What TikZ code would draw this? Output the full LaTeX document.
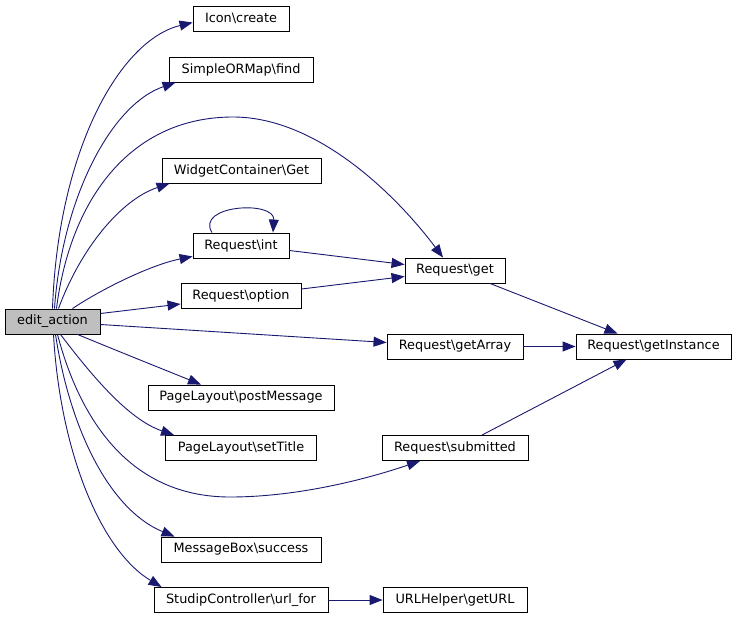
\documentclass[tikz,border=0pt]{standalone}
\usepackage{fontspec}
\setmainfont{DejaVu Sans}
\usetikzlibrary{arrows.meta}
\definecolor{edgec}{HTML}{191970}
\definecolor{rootc}{HTML}{BFBFBF}
\tikzset{
  fn/.style={draw=black, line width=0.9bp, fill=white, inner sep=0pt, minimum height=25bp,
    font=\fontsize{12.9}{14}\selectfont, text=black},
  root/.style={fn, fill=rootc},
  call/.style={draw=edgec, line width=0.9bp, -{Triangle[length=13bp,width=10bp]}, fill=none},
}
\begin{document}
\begin{tikzpicture}[x=1bp,y=-1bp]
\useasboundingbox (0,0) rectangle (736,619);
% nodes
\node[root, minimum width=95bp] (ea) at (52.5,321.5) {edit\_action};
\node[fn, minimum width=96bp] (icon) at (241,18.5) {Icon\textbackslash create};
\node[fn, minimum width=144bp] (find) at (241,69.5) {SimpleORMap\textbackslash find};
\node[fn, minimum width=159bp] (widget) at (241.5,170.5) {WidgetContainer\textbackslash Get};
\node[fn, minimum width=96bp] (int) at (241,245.5) {Request\textbackslash int};
\node[fn, minimum width=120bp] (option) at (241,296) {Request\textbackslash option};
\node[fn, minimum width=186bp] (post) at (241,397.5) {PageLayout\textbackslash postMessage};
\node[fn, minimum width=151bp] (title) at (241,448) {PageLayout\textbackslash setTitle};
\node[fn, minimum width=160bp] (success) at (241,549.5) {MessageBox\textbackslash success};
\node[fn, minimum width=174bp] (urlfor) at (241,600) {StudipController\textbackslash url\_for};
\node[fn, minimum width=100bp] (get) at (455,270.5) {Request\textbackslash get};
\node[fn, minimum width=136bp] (getarray) at (455,346.5) {Request\textbackslash getArray};
\node[fn, minimum width=155bp] (gi) at (653.5,346.5) {Request\textbackslash getInstance};
\node[fn, minimum width=146bp] (submitted) at (455,448) {Request\textbackslash submitted};
\node[fn, minimum width=144bp] (geturl) at (455,600) {URLHelper\textbackslash getURL};
% edges from edit_action
\draw[call] (ea.north) .. controls (58,150) and (120,40) .. ([yshift=-4bp]icon.west);
\draw[call] ([xshift=2bp]ea.north) .. controls (62,200) and (110,105) .. ([xshift=7bp]find.south west);
\draw[call] ([xshift=4bp]ea.north) .. controls (70,200) and (130,117) .. (233,117)
  .. controls (320,117) and (400,200) .. ([xshift=-12bp]get.north);
\draw[call] ([xshift=6bp]ea.north) .. controls (80,250) and (120,200) .. ([xshift=8bp]widget.south west);
\draw[call] ([xshift=20bp]ea.north) .. controls (100,290) and (150,265) .. ([yshift=2bp]int.south west);
\draw[call] ([yshift=8bp]ea.east) -- ([yshift=-8bp]option.west);
\draw[call] ([yshift=-3bp]ea.east) -- ([yshift=4bp]getarray.west);
\draw[call] ([xshift=25bp]ea.south) .. controls (120,352) and (170,372) .. ([xshift=-40bp]post.north);
\draw[call] ([xshift=8bp]ea.south) .. controls (95,380) and (130,420) .. ([xshift=9bp]title.north west);
\draw[call] ([xshift=5bp]ea.south) .. controls (80,420) and (130,497) .. (230,497)
  .. controls (300,497) and (370,478) .. ([xshift=-35bp]submitted.south);
\draw[call] ([xshift=3bp]ea.south) .. controls (70,430) and (110,510) .. ([xshift=14bp]success.north west);
\draw[call] ([xshift=1bp]ea.south) .. controls (60,450) and (100,550) .. ([xshift=8bp]urlfor.north west);
% other edges
\draw[call] ([xshift=-29bp]int.north) .. controls (195,205) and (275,200) .. ([xshift=32bp]int.north);
\draw[call] ([yshift=-5bp]int.east) -- ([yshift=6bp]get.west);
\draw[call] ([yshift=7bp]option.east) -- ([yshift=-6bp]get.west);
\draw[call] ([xshift=35bp]get.south) -- ([xshift=-36bp]gi.north);
\draw[call] (getarray.east) -- (gi.west);
\draw[call] ([xshift=27bp]submitted.north) -- ([xshift=-27bp]gi.south);
\draw[call] (urlfor.east) -- (geturl.west);
\end{tikzpicture}
\end{document}
